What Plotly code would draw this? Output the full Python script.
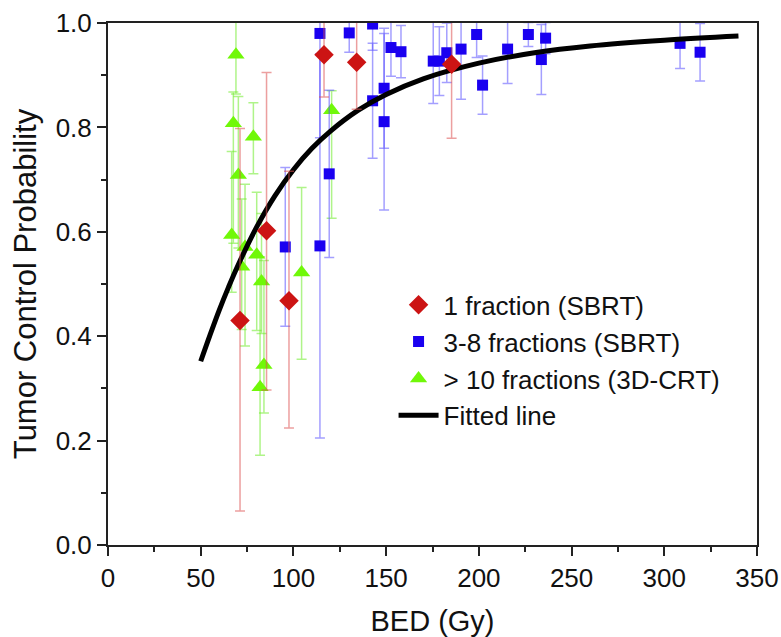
import plotly.graph_objects as go

# 1 fraction (SBRT)
red_x = [71.2, 85.5, 97.6, 116.5, 134.1, 185.3]
red_y = [0.430, 0.602, 0.468, 0.939, 0.925, 0.921]
red_up = [0.368, 0.303, 0.248, 0.08, 0.09, 0.142]
red_dn = [0.365, 0.305, 0.244, 0.081, 0.09, 0.142]

# 3-8 fractions (SBRT)
blue_x = [95.6, 114.3, 114.3, 130.1, 119.3, 142.7, 142.7, 148.9, 148.9, 152.6, 158.0,
          175.4, 178.7, 182.7, 190.4, 198.8, 202.0, 215.5, 226.7, 236.0, 233.7, 308.5, 319.3]
blue_y = [0.571, 0.980, 0.573, 0.981, 0.711, 0.998, 0.851, 0.875, 0.811, 0.953, 0.945,
          0.927, 0.927, 0.943, 0.950, 0.978, 0.881, 0.950, 0.978, 0.971, 0.930, 0.961, 0.944]
blue_err = [0.152, 0.2, 0.368, 0.037, 0.16, 0.05, 0.11, 0.115, 0.169, 0.055, 0.05,
            0.081, 0.066, 0.057, 0.096, 0.044, 0.056, 0.066, 0.023, 0.03, 0.067, 0.048, 0.055]

# > 10 fractions (3D-CRT)
green_x = [69.0, 67.6, 78.4, 70.3, 66.7, 73.9, 80.2, 72.1, 82.8, 104.4, 84.1, 82.0, 120.6]
green_y = [0.939, 0.808, 0.782, 0.709, 0.594, 0.571, 0.556, 0.533, 0.505, 0.522, 0.345, 0.302, 0.833]
green_up = [0.07, 0.06, 0.065, 0.15, 0.16, 0.12, 0.12, 0.13, 0.13, 0.163, 0.2, 0.25, 0.037]
green_dn = [0.075, 0.23, 0.071, 0.14, 0.11, 0.19, 0.145, 0.12, 0.10, 0.166, 0.092, 0.13, 0.207]

# Fitted line
fit_x = [50, 55, 60, 65, 70, 80, 90, 100, 110, 120, 135, 150, 170, 200, 230, 260, 300, 340]
fit_y = [0.352, 0.402, 0.450, 0.494, 0.535, 0.608, 0.669, 0.719, 0.760, 0.793, 0.833,
         0.863, 0.893, 0.923, 0.943, 0.956, 0.967, 0.975]

x_ticks = [0, 50, 100, 150, 200, 250, 300, 350]
y_ticks = [0.0, 0.2, 0.4, 0.6, 0.8, 1.0]
y_tick_text = ["0.0", "0.2", "0.4", "0.6", "0.8", "1.0"]

fig = go.Figure()

fig.add_trace(go.Scatter(
    x=green_x, y=green_y, mode="markers", name="> 10 fractions (3D-CRT)", legendrank=3,
    marker=dict(symbol="triangle-up", size=15, color="#70f808"),
    error_y=dict(type="data", symmetric=False, array=green_up, arrayminus=green_dn,
                 color="rgba(110,235,40,0.55)", thickness=1.5, width=5)))

fig.add_trace(go.Scatter(
    x=blue_x, y=blue_y, mode="markers", name="3-8 fractions (SBRT)", legendrank=2,
    marker=dict(symbol="square", size=11, color="#1a00f0"),
    error_y=dict(type="data", array=blue_err,
                 color="rgba(90,80,255,0.55)", thickness=1.5, width=5)))

fig.add_trace(go.Scatter(
    x=fit_x, y=fit_y, mode="lines", name="Fitted line", legendrank=4,
    line=dict(color="black", width=5, shape="spline")))

fig.add_trace(go.Scatter(
    x=red_x, y=red_y, mode="markers", name="1 fraction (SBRT)", legendrank=1,
    marker=dict(symbol="diamond", size=15, color="#cc1414"),
    error_y=dict(type="data", symmetric=False, array=red_up, arrayminus=red_dn,
                 color="rgba(220,80,80,0.55)", thickness=1.5, width=5)))

FONT = "Liberation Sans, Arial, sans-serif"
tick_font = dict(family=FONT, size=26, color="#111")

fig.update_layout(
    width=781, height=637,
    margin=dict(l=108, r=24, t=23, b=92),
    paper_bgcolor="white", plot_bgcolor="white",
    font=dict(family=FONT, size=26, color="#111"),
    showlegend=True,
    legend=dict(x=0.44, y=0.505, xanchor="left", yanchor="top",
                bgcolor="rgba(0,0,0,0)", font=dict(family=FONT, size=26, color="#111"),
                itemwidth=40, tracegroupgap=0),
    xaxis=dict(range=[0, 350], tickvals=x_ticks, ticktext=[str(v) for v in x_ticks],
               automargin=False,
               ticks="outside", ticklen=9, tickwidth=1.5, tickcolor="#222",
               minor=dict(dtick=25, tick0=0, ticks="outside", ticklen=5, tickwidth=1.5, tickcolor="#222"),
               showline=True, linecolor="#222", linewidth=2, mirror=True,
               showgrid=False, zeroline=False, tickfont=tick_font,
               title=dict(text="BED (Gy)", font=dict(family=FONT, size=29, color="#111"), standoff=20)),
    yaxis=dict(range=[0, 1.0], tickvals=y_ticks, ticktext=y_tick_text,
               automargin=False,
               ticks="outside", ticklen=9, tickwidth=1.5, tickcolor="#222",
               minor=dict(dtick=0.1, tick0=0, ticks="outside", ticklen=5, tickwidth=1.5, tickcolor="#222"),
               showline=True, linecolor="#222", linewidth=2, mirror=True,
               showgrid=False, zeroline=False, tickfont=tick_font,
               title=dict(text="Tumor Control Probability", font=dict(family=FONT, size=31, color="#111"), standoff=10)),
)

fig.write_html("out.html",
               config={"displayModeBar": False},
               post_script="document.body.style.margin='0';document.body.style.overflow='hidden';")
